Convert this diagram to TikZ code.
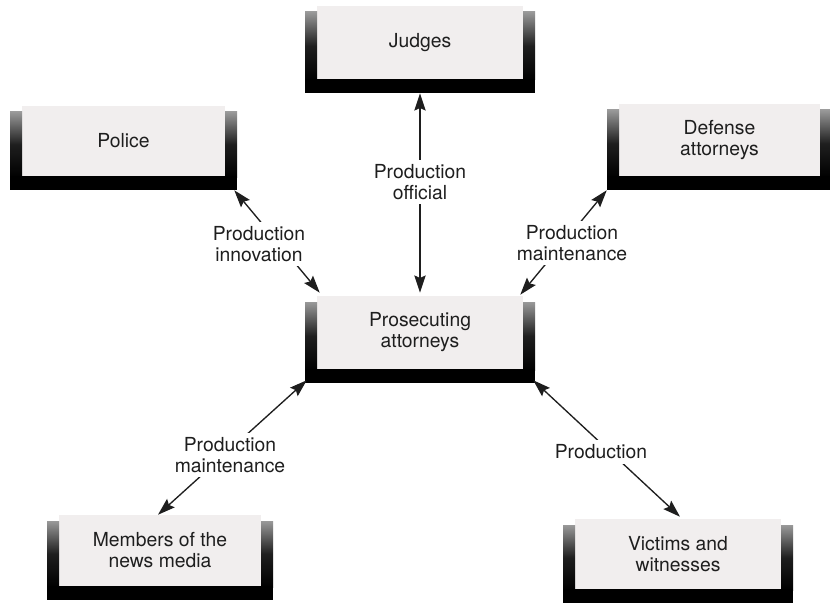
\documentclass[tikz,border=0pt]{standalone}
\usepackage{fontspec}
\setmainfont{TeX Gyre Heros}
\usetikzlibrary{arrows.meta,calc,fit}

\definecolor{facegray}{RGB}{241,238,238}
\definecolor{inkgray}{RGB}{30,30,30}

\tikzset{
  x=0.75pt, y=-0.75pt,
  face/.style={fill=facegray},
  sidebar/.style={top color=black!40, bottom color=black, middle color=black!88},
  basebar/.style={fill=black},
  boxtext/.style={font=\fontsize{14.5pt}{15.8pt}\selectfont, text=inkgray,
    align=center, inner sep=0pt},
  tag/.style={font=\fontsize{14.5pt}{15.8pt}\selectfont, text=inkgray,
    align=center, fill=white, inner xsep=2pt, inner ysep=3.5pt},
  tip/.tip={Stealth[length=13pt, width=8.5pt, inset=2pt]},
  link/.style={draw=inkgray, line width=1pt, tip-tip},
}

% A tray-shaped box: light face, shaded side bars, heavy base bar.
% #1 name, #2 left, #3 top, #4 right, #5 bottom, #6 text
\newcommand\traybox[6]{%
  \fill[face] (#2+12,#3-6) rectangle (#4-12,#5-14);
  \shade[sidebar] (#2,#3) rectangle (#2+12,#5-13);
  \shade[sidebar] (#4-12,#3) rectangle (#4,#5-13);
  \fill[basebar] (#2,#5-14) rectangle (#4,#5);
  \node[fit={(#2,#3) (#4,#5)}, inner sep=0pt] (#1) {};
  \node[boxtext] (#1-text) at ({(#2+#4)/2}, {(#3+#5-14)/2-3}) {#6};
}

\begin{document}
\begin{tikzpicture}
  \fill[white] (0,0) rectangle (830,606);
  \useasboundingbox (0,0) rectangle (830,606);

  % boxes
  \traybox{judges}{305}{12}{535}{93}{Judges}
  \traybox{police}{10}{112}{237}{190}{Police}
  \traybox{defense}{607}{110}{832}{190}{Defense\\attorneys}
  \traybox{pros}{305}{302}{535}{383}{Prosecuting\\attorneys}
  \traybox{members}{47}{521}{273}{600}{Members of the\\news media}
  \traybox{victims}{563}{525}{793}{603}{Victims and\\witnesses}

  % connectors
  \draw[link] ($(police.south east)+(-3,0)$) -- ($(pros.north west)+(15,-9)$);
  \draw[link] (judges.south) -- ($(pros.north)+(0,-9)$);
  \draw[link] (defense.south west) -- ($(pros.north east)+(-15,-7)$);
  \draw[link] ($(pros.south west)+(2,-3)$) -- ($(members.north)+(-2,-6)$);
  \draw[link] ($(pros.south east)+(-2,-3)$) -- ($(victims.north)+(2,-8)$);

  % connector labels
  \node[tag] (t-official) at (420,182) {Production\\official};
  \node[tag] (t-innovation) at (259,244) {Production\\innovation};
  \node[tag] (t-defense) at (572,243) {Production\\maintenance};
  \node[tag] (t-media) at (230,455) {Production\\maintenance};
  \node[tag] (t-victims) at (601,452) {Production};
\end{tikzpicture}
\end{document}
